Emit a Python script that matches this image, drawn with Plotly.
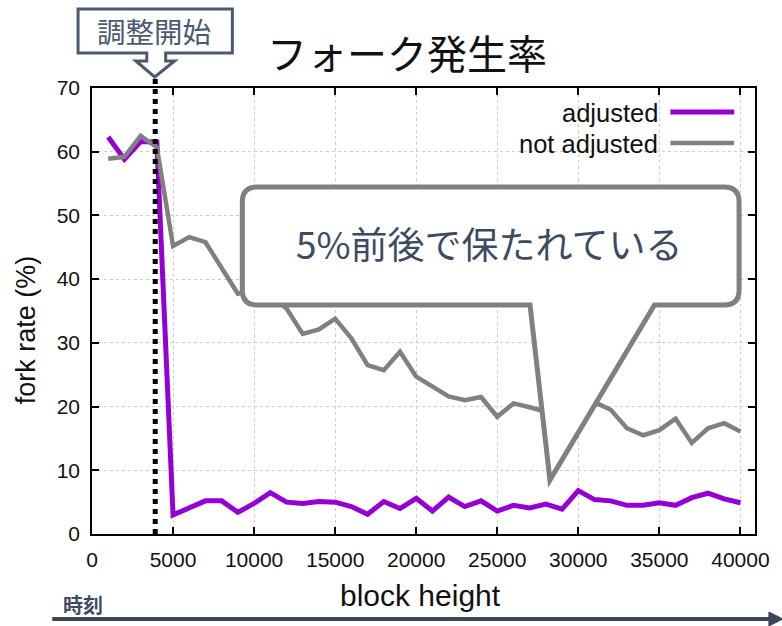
import plotly.graph_objects as go

# Block heights (one sample every 1000 blocks)
block_height = [1000, 2000, 3000, 4000, 5000, 6000, 7000, 8000, 9000, 10000,
                11000, 12000, 13000, 14000, 15000, 16000, 17000, 18000, 19000, 20000,
                21000, 22000, 23000, 24000, 25000, 26000, 27000, 28000, 29000, 30000,
                31000, 32000, 33000, 34000, 35000, 36000, 37000, 38000, 39000, 40000]

# Fork rate (%) with difficulty adjustment
adjusted = [62.3, 58.8, 61.6, 61.5, 3.0, 4.1, 5.2, 5.2, 3.4, 4.8,
            6.5, 5.0, 4.8, 5.1, 5.0, 4.3, 3.1, 5.1, 4.0, 5.6,
            3.6, 5.8, 4.3, 5.2, 3.6, 4.5, 4.1, 4.7, 3.9, 6.8,
            5.4, 5.2, 4.5, 4.5, 4.9, 4.5, 5.7, 6.4, 5.5, 4.9]

# Fork rate (%) without adjustment
not_adjusted = [58.9, 59.2, 62.5, 60.7, 45.2, 46.6, 45.8, 41.8, 37.7, 38.5,
                37.5, 35.4, 31.4, 32.1, 33.8, 30.7, 26.5, 25.7, 28.6, 24.7,
                23.1, 21.6, 21.0, 21.5, 18.4, 20.5, 19.9, 19.2, 19.5, 20.3,
                20.7, 19.5, 16.6, 15.5, 16.3, 18.1, 14.3, 16.6, 17.4, 16.1]

x_ticks = [0, 5000, 10000, 15000, 20000, 25000, 30000, 35000, 40000]
x_tick_text = ["0", "5000", "10000", "15000", "20000", "25000", "30000", "35000", "40000"]
y_ticks = [0, 10, 20, 30, 40, 50, 60, 70]
adjust_start = 3900

series_names = ["adjusted", "not adjusted"]
title_text = "フォーク発生率"
callout_text = "5%前後で保たれている"
start_label = "調整開始"
time_label = "時刻"

W, H = 782, 626
ML, MR, MT, MB = 92, 24, 88, 92
PW, PH = W - ML - MR, H - MT - MB

PURPLE = "#9400d3"
GRAY = "#808080"
SLATE = "#4b5a72"
LATIN = "Liberation Sans, Arial, sans-serif"
CJK = "Noto Sans CJK JP, sans-serif"


def px(x):
    return (x - ML) / PW


def py(y):
    return (H - MB - y) / PH


def path(points_cmds):
    out = []
    for cmd, pts in points_cmds:
        coords = " ".join(f"{px(a):.5f},{py(b):.5f}" for a, b in pts)
        out.append(f"{cmd} {coords}")
    return " ".join(out) + " Z"


fig = go.Figure()
fig.add_trace(go.Scatter(x=block_height, y=adjusted, mode="lines",
                         name=series_names[0],
                         line=dict(color=PURPLE, width=5), showlegend=False))
fig.add_trace(go.Scatter(x=block_height, y=not_adjusted, mode="lines",
                         name=series_names[1],
                         line=dict(color=GRAY, width=4.5), showlegend=False))

axis_common = dict(showline=True, linecolor="black", linewidth=1.5, mirror="ticks",
                   ticks="inside", ticklen=7, tickwidth=1.5, tickcolor="black",
                   showgrid=True, gridcolor="#cccccc", griddash="dot", gridwidth=1,
                   zeroline=False, ticklabelstandoff=6,
                   tickfont=dict(family=LATIN, size=21, color="#111"))

fig.update_xaxes(range=[0, 40900], tickvals=x_ticks, ticktext=x_tick_text, **axis_common)
fig.update_yaxes(range=[0, 70], tickvals=y_ticks, **axis_common)

shapes = []
# start-of-adjustment marker
shapes.append(dict(type="line", xref="x", yref="paper", x0=adjust_start, x1=adjust_start,
                   y0=0, y1=py(79), layer="above",
                   line=dict(color="black", width=5, dash="dot")))

# speech bubble
bubble = path([
    ("M", [(532, 305)]), ("L", [(552, 480)]), ("L", [(657, 305)]), ("L", [(727, 305)]),
    ("Q", [(742, 305), (742, 290)]), ("L", [(742, 202)]),
    ("Q", [(742, 187), (727, 187)]), ("L", [(258, 187)]),
    ("Q", [(243, 187), (243, 202)]), ("L", [(243, 290)]),
    ("Q", [(243, 305), (258, 305)]),
])
shapes.append(dict(type="path", xref="paper", yref="paper", path=bubble, layer="above",
                   fillcolor="white", line=dict(color=GRAY, width=5)))

# arrow callout at the top-left
arrow_box = path([
    ("M", [(78, 9)]), ("L", [(233, 9)]), ("L", [(233, 53)]), ("L", [(166, 53)]),
    ("L", [(166, 61)]), ("L", [(175, 61)]), ("L", [(155, 77)]), ("L", [(136, 61)]),
    ("L", [(147, 61)]), ("L", [(147, 53)]), ("L", [(78, 53)]),
])
shapes.append(dict(type="path", xref="paper", yref="paper", path=arrow_box, layer="above",
                   fillcolor="white", line=dict(color=SLATE, width=3)))

# legend samples
for yy, col, wd in [(112, PURPLE, 5), (143, GRAY, 4.5)]:
    shapes.append(dict(type="line", xref="paper", yref="paper", x0=px(673), x1=px(737),
                       y0=py(yy), y1=py(yy), layer="above", line=dict(color=col, width=wd)))

# time arrow along the bottom
shapes.append(dict(type="line", xref="paper", yref="paper", x0=px(52), x1=px(776),
                   y0=py(619), y1=py(619), line=dict(color="#3b4656", width=4)))
shapes.append(dict(type="path", xref="paper", yref="paper",
                   path=path([("M", [(772, 612)]), ("L", [(786, 619)]), ("L", [(772, 626)])]),
                   fillcolor="#3b4656", line=dict(color="#3b4656", width=1)))

annotations = [
    dict(x=px(408), y=py(52), text=title_text, font=dict(family=CJK, size=40, color="#111")),
    dict(x=px(491), y=py(243), text=callout_text, font=dict(family=CJK, size=37, color="#3c4b63")),
    dict(x=px(154), y=py(31), text=start_label, font=dict(family=CJK, size=28.5, color=SLATE)),
    dict(x=px(83), y=py(604), text=f"<b>{time_label}</b>", font=dict(family=CJK, size=20, color="#3d4a60")),
    dict(x=px(422), y=py(595), text="block height", font=dict(family=LATIN, size=30, color="#111")),
    dict(x=px(26), y=py(330), text="fork rate (%)", textangle=-90,
         font=dict(family=LATIN, size=27, color="#111")),
    dict(x=px(663), y=py(113), text=series_names[0], xanchor="right",
         font=dict(family=LATIN, size=25.5, color="#111")),
    dict(x=px(663), y=py(144), text=series_names[1], xanchor="right",
         font=dict(family=LATIN, size=25.5, color="#111")),
]
for a in annotations:
    a.setdefault("xanchor", "center")
    a.update(xref="paper", yref="paper", yanchor="middle", showarrow=False)

fig.update_layout(width=W, height=H, margin=dict(l=ML, r=MR, t=MT, b=MB),
                  paper_bgcolor="white", plot_bgcolor="white",
                  shapes=shapes, annotations=annotations, showlegend=False)

fig.write_html("out.html")
